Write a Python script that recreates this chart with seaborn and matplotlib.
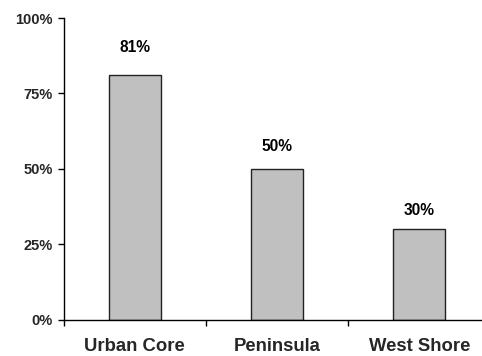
import matplotlib
matplotlib.use("Agg")
import matplotlib.pyplot as plt
import seaborn as sns
import pandas as pd
from matplotlib.ticker import FixedLocator

regions = ["Urban Core", "Peninsula", "West Shore"]
shares = [81, 50, 30]
y_ticks = [0, 25, 50, 75, 100]
y_tick_labels = ["0%", "25%", "50%", "75%", "100%"]

sns.set_theme(style="white")
plt.rcParams["font.family"] = ["Liberation Sans", "DejaVu Sans"]
plt.rcParams["font.weight"] = "bold"

df = pd.DataFrame({"region": regions, "share": shares})

fig = plt.figure(figsize=(4.82, 3.56), dpi=100)
ax = fig.add_axes([63.5 / 482, 36.5 / 356, 427 / 482, 301.5 / 356])

sns.barplot(data=df, x="region", y="share", color="#C0C0C0", saturation=1,
            edgecolor="#222222", linewidth=1.0, width=0.365, ax=ax)

# value labels sit a little above each bar, further for taller bars
for i, v in enumerate(shares):
    ax.text(i, v * 1.06 + 4.4, f"{v}%", ha="center", va="center",
            fontsize=11.2, fontweight="bold", color="black")

ax.set_xlim(-0.5, 2.5)
ax.set_ylim(0, 100)
ax.set_yticks(y_ticks)
ax.set_yticklabels(y_tick_labels, fontsize=10.5, fontweight="bold")
ax.tick_params(axis="y", direction="out", length=4.5, width=1, color="black",
               left=True, pad=3)

# category names centred under bars; divider ticks between groups
ax.set_xticks(range(len(regions)))
ax.set_xticklabels(regions, fontsize=13.3, fontweight="bold")
ax.tick_params(axis="x", which="major", length=0, pad=13)
ax.xaxis.set_minor_locator(FixedLocator([-0.5, 0.5, 1.5, 2.5]))
ax.tick_params(axis="x", which="minor", direction="out", length=4.5, width=1,
               color="black", bottom=True)

ax.set_xlabel("")
ax.set_ylabel("")
for side in ["top", "right"]:
    ax.spines[side].set_visible(False)
for side in ["left", "bottom"]:
    ax.spines[side].set_color("black")
    ax.spines[side].set_linewidth(1)

fig.savefig("out.png", dpi=100)
